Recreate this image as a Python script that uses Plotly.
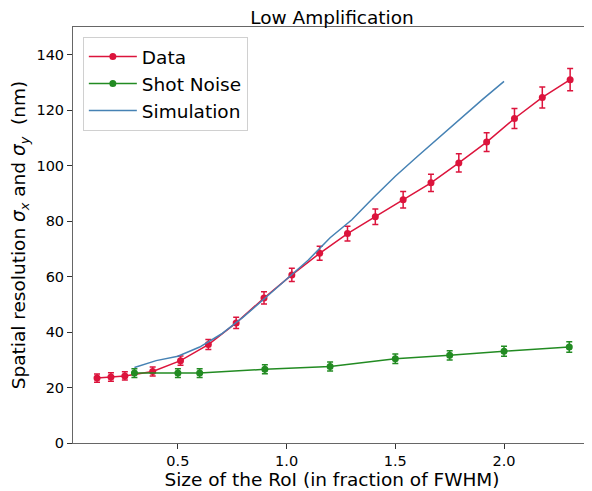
import plotly.graph_objects as go

data_x = [0.128, 0.192, 0.256, 0.384, 0.512, 0.64, 0.768, 0.896, 1.024, 1.152, 1.28,
          1.408, 1.536, 1.664, 1.792, 1.92, 2.048, 2.176, 2.304]
data_y = [23.4, 23.8, 24.2, 25.8, 29.7, 35.5, 43.3, 52.3, 60.6, 68.4, 75.5,
          81.6, 87.7, 93.8, 101.0, 108.5, 117.0, 124.6, 131.0]
data_err = [1.5, 1.5, 1.5, 1.6, 1.7, 1.8, 2.0, 2.2, 2.4, 2.5, 2.7,
            2.8, 3.0, 3.1, 3.3, 3.4, 3.6, 3.8, 4.0]

shot_x = [0.3, 0.5, 0.6, 0.9, 1.2, 1.5, 1.75, 2.0, 2.3]
shot_y = [25.2, 25.2, 25.2, 26.6, 27.6, 30.4, 31.6, 33.1, 34.6]
shot_err = [1.6, 1.6, 1.6, 1.6, 1.6, 1.7, 1.7, 1.8, 1.9]

sim_x = [0.3, 0.4, 0.5, 0.6, 0.7, 0.8, 0.9, 1.0, 1.1, 1.2, 1.3, 1.4, 1.5,
         1.6, 1.7, 1.8, 1.9, 2.0]
sim_y = [27.2, 29.7, 31.3, 34.6, 39.3, 45.4, 52.2, 59.2, 66.0, 74.0, 80.5, 88.5, 96.2,
         103.2, 110.1, 117.0, 123.8, 130.4]

RED = "#DC143C"
GREEN = "#228B22"
BLUE = "#4682B4"
FONT = "DejaVu Sans"

# page body has an 8px default margin; figure is sized to fill the rest
W, H = 584, 483

fig = go.Figure()
fig.add_trace(go.Scatter(
    x=data_x, y=data_y, mode="lines+markers", name="Data", legendgroup="a",
    line=dict(color=RED, width=1.5), marker=dict(color=RED, size=7),
    error_y=dict(type="data", array=data_err, color=RED, thickness=1.5, width=3),
))
fig.add_trace(go.Scatter(
    x=shot_x, y=shot_y, mode="lines+markers", name="Shot Noise", legendgroup="b",
    line=dict(color=GREEN, width=1.5), marker=dict(color=GREEN, size=7),
    error_y=dict(type="data", array=shot_err, color=GREEN, thickness=1.5, width=3),
))
fig.add_trace(go.Scatter(
    x=sim_x, y=sim_y, mode="lines", name="Simulation", legendgroup="c",
    line=dict(color=BLUE, width=1.5),
))

axis_common = dict(
    showline=True, linecolor="#666", linewidth=1, mirror=True,
    ticks="outside", ticklen=5, tickcolor="#333", tickwidth=1,
    showgrid=False, zeroline=False,
    tickfont=dict(family=FONT, size=14.5, color="#000"),
)

fig.update_layout(
    width=W, height=H,
    margin=dict(l=65, r=1, t=19, b=48),
    paper_bgcolor="white", plot_bgcolor="white",
    font=dict(family=FONT, color="#000"),
    title=dict(text="Low Amplification", x=(65 + 583) / 2 / W, xanchor="center",
               y=1 - 10 / H, yanchor="middle",
               font=dict(family=FONT, size=18.5, color="#000")),
    xaxis=dict(range=[0.0175, 2.4], tickvals=[0.5, 1.0, 1.5, 2.0],
               ticktext=["0.5", "1.0", "1.5", "2.0"],
               title=dict(text="Size of the RoI (in fraction of FWHM)",
                          font=dict(family=FONT, size=18.5), standoff=2),
               **axis_common),
    yaxis=dict(range=[0, 150], tickvals=[0, 20, 40, 60, 80, 100, 120, 140],
               title=dict(text="Spatial resolution <i>σ<sub>x</sub></i> and <i>σ<sub>y</sub></i>  (nm)",
                          font=dict(family=FONT, size=18.5), standoff=6),
               **axis_common),
    legend=dict(x=0.019, y=0.976, xanchor="left", yanchor="top",
                bgcolor="rgba(255,255,255,0.8)", bordercolor="#d0d0d0", borderwidth=1,
                font=dict(family=FONT, size=18.5, color="#000"),
                itemwidth=48, tracegroupgap=0, traceorder="grouped"),
    showlegend=True,
)

fig.write_html("out.html")
